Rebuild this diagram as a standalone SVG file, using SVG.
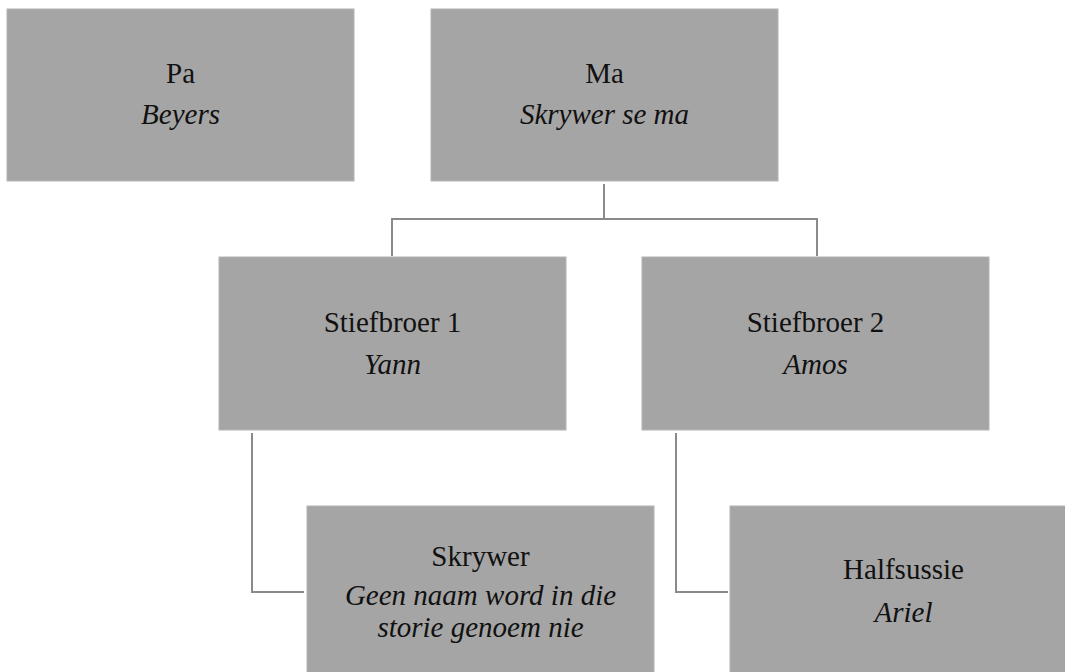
<svg xmlns="http://www.w3.org/2000/svg" width="1065" height="672" viewBox="0 0 1065 672">
<style>
.box{fill:#a5a5a5;stroke:#b4b4b4;stroke-width:1}
.t{font-family:"Liberation Serif","Times New Roman",serif;font-size:29px;fill:#111;text-anchor:middle}
.i{font-style:italic}
.c{fill:none;stroke:#8a8a8a;stroke-width:2}
</style>
<rect width="1065" height="672" fill="#fff"/>
<g id="connectors">
<path class="c" d="M604,184 V219 M392,219 H817 M392,218 V256 M817,218 V256"/>
<path class="c" d="M252,433 V592 H304"/>
<path class="c" d="M676,433 V592 H728"/>
</g>
<g id="pa">
<rect class="box" x="7" y="9" width="347" height="172"/>
<text class="t" x="180.5" y="83">Pa</text>
<text class="t i" x="180.5" y="124">Beyers</text>
</g>
<g id="ma">
<rect class="box" x="431" y="9" width="347" height="172"/>
<text class="t" x="604.5" y="83">Ma</text>
<text class="t i" x="604.5" y="124">Skrywer se ma</text>
</g>
<g id="stiefbroer1">
<rect class="box" x="219" y="257" width="347" height="173"/>
<text class="t" x="392.5" y="332">Stiefbroer 1</text>
<text class="t i" x="392.5" y="374">Yann</text>
</g>
<g id="stiefbroer2">
<rect class="box" x="642" y="257" width="347" height="173"/>
<text class="t" x="815.5" y="332">Stiefbroer 2</text>
<text class="t i" x="815.5" y="374">Amos</text>
</g>
<g id="skrywer">
<rect class="box" x="307" y="506" width="347" height="172"/>
<text class="t" x="480.5" y="566">Skrywer</text>
<text class="t i" x="480.5" y="605">Geen naam word in die</text>
<text class="t i" x="480.5" y="637">storie genoem nie</text>
</g>
<g id="halfsussie">
<rect class="box" x="730" y="506" width="347" height="172"/>
<text class="t" x="903.5" y="579">Halfsussie</text>
<text class="t i" x="903.5" y="622">Ariel</text>
</g>
</svg>
